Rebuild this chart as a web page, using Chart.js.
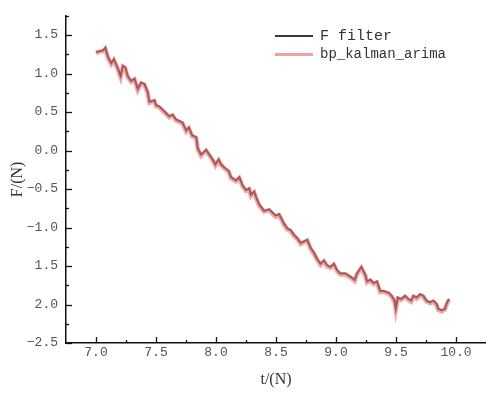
<!DOCTYPE html>
<html>
<head>
<meta charset="utf-8">
<script src="https://cdn.jsdelivr.net/npm/chart.js@4.4.1/dist/chart.umd.min.js"></script>
<style>
  html, body { margin: 0; padding: 0; background: #fff; }
  #wrap { width: 486px; height: 394px; }
</style>
</head>
<body>
<div id="wrap"><canvas id="chart"></canvas></div>
<script>
// time axis (s)
var tVals = [7.000, 7.030, 7.058, 7.077, 7.100, 7.127, 7.149, 7.177, 7.205, 7.224,
  7.243, 7.265, 7.293, 7.321, 7.348, 7.376, 7.404, 7.431, 7.445, 7.487,
  7.500, 7.528, 7.556, 7.583, 7.611, 7.638, 7.666, 7.694, 7.721, 7.752,
  7.774, 7.802, 7.835, 7.848, 7.876, 7.918, 7.945, 7.973, 7.995, 8.022,
  8.042, 8.070, 8.105, 8.125, 8.167, 8.194, 8.221, 8.250, 8.277, 8.291,
  8.318, 8.337, 8.360, 8.401, 8.443, 8.470, 8.498, 8.526, 8.567, 8.595,
  8.623, 8.650, 8.677, 8.706, 8.733, 8.760, 8.789, 8.816, 8.843, 8.871,
  8.899, 8.926, 8.954, 8.982, 9.009, 9.037, 9.079, 9.120, 9.156, 9.175,
  9.211, 9.245, 9.258, 9.286, 9.313, 9.341, 9.369, 9.396, 9.438, 9.465,
  9.488, 9.498, 9.515, 9.543, 9.576, 9.604, 9.626, 9.645, 9.672, 9.701,
  9.728, 9.755, 9.784, 9.811, 9.838, 9.852, 9.880, 9.908, 9.921, 9.941];

var fFilter = [1.279, 1.290, 1.300, 1.334, 1.216, 1.134, 1.184, 1.091, 0.966, 1.100,
  1.084, 0.966, 0.904, 0.934, 0.800, 0.884, 0.863, 0.759, 0.634, 0.654,
  0.591, 0.571, 0.529, 0.488, 0.446, 0.466, 0.404, 0.384, 0.363, 0.259,
  0.300, 0.196, 0.175, 0.029, -0.054, 0.009, -0.054, -0.116, -0.179, -0.116,
  -0.179, -0.221, -0.263, -0.346, -0.388, -0.346, -0.450, -0.513, -0.491, -0.575,
  -0.534, -0.616, -0.700, -0.784, -0.763, -0.804, -0.846, -0.825, -0.950, -1.013,
  -1.034, -1.096, -1.138, -1.200, -1.179, -1.159, -1.263, -1.325, -1.409, -1.471,
  -1.429, -1.491, -1.513, -1.471, -1.554, -1.596, -1.596, -1.638, -1.679, -1.596,
  -1.513, -1.616, -1.700, -1.679, -1.721, -1.700, -1.825, -1.825, -1.846, -1.888,
  -1.950, -2.054, -1.909, -1.929, -1.888, -1.929, -1.950, -1.888, -1.909, -1.866,
  -1.888, -1.950, -1.971, -1.950, -1.991, -2.054, -2.075, -2.054, -1.991, -1.929];

var bpKalman = [1.265, 1.285, 1.290, 1.320, 1.200, 1.120, 1.175, 1.075, 0.950, 1.090,
  1.070, 0.950, 0.890, 0.920, 0.785, 0.870, 0.850, 0.745, 0.620, 0.640,
  0.575, 0.560, 0.515, 0.475, 0.430, 0.455, 0.390, 0.370, 0.350, 0.245,
  0.285, 0.185, 0.160, 0.015, -0.070, -0.005, -0.065, -0.130, -0.195, -0.130,
  -0.190, -0.235, -0.275, -0.360, -0.400, -0.360, -0.465, -0.525, -0.505, -0.590,
  -0.545, -0.630, -0.715, -0.795, -0.775, -0.820, -0.860, -0.840, -0.965, -1.025,
  -1.050, -1.110, -1.150, -1.215, -1.190, -1.170, -1.280, -1.340, -1.420, -1.485,
  -1.440, -1.505, -1.525, -1.485, -1.570, -1.610, -1.610, -1.650, -1.695, -1.610,
  -1.525, -1.630, -1.715, -1.690, -1.735, -1.715, -1.840, -1.835, -1.860, -1.900,
  -1.965, -2.070, -1.925, -1.940, -1.900, -1.945, -1.965, -1.900, -1.925, -1.880,
  -1.900, -1.965, -1.985, -1.965, -2.005, -2.070, -2.090, -2.065, -2.005, -1.940];

var xTicks = [7.0, 7.5, 8.0, 8.5, 9.0, 9.5, 10.0];
var xTickLabels = ['7.0', '7.5', '8.0', '8.5', '9.0', '9.5', '10.0'];
var yTicks = [1.5, 1.0, 0.5, 0.0, -0.5, -1.0, -1.5, -2.0, -2.5];
// labels as printed in the figure (two minus signs are missing there)
var yTickLabels = ['1.5', '1.0', '0.5', '0.0', '\u22120.5', '\u22121.0', '1.5', '2.0', '\u22122.5'];
var xMinor = [7.25, 7.75, 8.25, 8.75, 9.25, 9.75];
var yMinor = [1.75, 1.25, 0.75, 0.25, -0.25, -0.75, -1.25, -1.75, -2.25];

var seriesNames = ['F filter', 'bp_kalman_arima'];

function toPoints(xs, ys){
  var out = [];
  for (var i = 0; i < xs.length; i++) out.push({x: xs[i], y: ys[i]});
  return out;
}

// inward ticks + legend
var decor = {
  id: 'decor',
  afterDraw: function(chart){
    var ctx = chart.ctx, xs = chart.scales.x, ys = chart.scales.y;
    var a = chart.chartArea;
    ctx.save();
    ctx.strokeStyle = '#111';
    ctx.lineWidth = 1.3;
    function tickX(v, len){
      var p = Math.round(xs.getPixelForValue(v)) + 0.5;
      ctx.beginPath(); ctx.moveTo(p, a.bottom); ctx.lineTo(p, a.bottom - len); ctx.stroke();
    }
    function tickY(v, len){
      var p = Math.round(ys.getPixelForValue(v)) + 0.5;
      ctx.beginPath(); ctx.moveTo(a.left, p); ctx.lineTo(a.left + len, p); ctx.stroke();
    }
    xTicks.forEach(function(v){ tickX(v, 6); });
    xMinor.forEach(function(v){ tickX(v, 3); });
    yTicks.forEach(function(v){ tickY(v, 6); });
    yMinor.forEach(function(v){ tickY(v, 3); });

    // legend
    var lx = 275, ly = 36, gap = 18.5;
    chart.data.datasets.forEach(function(ds, i){
      var y = ly + i * gap;
      ctx.strokeStyle = i === 0 ? ds.borderColor : 'rgba(240,150,150,0.9)';
      ctx.lineWidth = i === 0 ? 2 : 3;
      ctx.beginPath(); ctx.moveTo(lx, y); ctx.lineTo(lx + 38, y); ctx.stroke();
      ctx.fillStyle = '#333';
      ctx.font = (i === 0 ? '15px' : '14px') + ' "Liberation Mono"';
      ctx.textBaseline = 'middle';
      ctx.fillText(ds.label, lx + 45, y);
    });
    ctx.restore();
  }
};

var ctx = document.getElementById('chart').getContext('2d');
var chart = new Chart(ctx, {
  type: 'line',
  data: {
    datasets: [{
      label: seriesNames[0],
      data: toPoints(tVals, fFilter),
      borderColor: '#333b3b',
      borderWidth: 2,
      pointRadius: 0,
      tension: 0,
      order: 1
    }, {
      label: seriesNames[1],
      data: toPoints(tVals, bpKalman),
      borderColor: 'rgba(236,112,112,0.6)',
      borderWidth: 4.5,
      pointRadius: 0,
      tension: 0,
      order: 0
    }]
  },
  options: {
    responsive: true,
    maintainAspectRatio: false,
    animation: false,
    layout: { padding: { top: 4, right: 0, left: 0, bottom: 0 } },
    plugins: {
      legend: { display: false },
      tooltip: { enabled: false }
    },
    scales: {
      x: {
        type: 'linear',
        min: 6.75,
        max: 10.25,
        afterBuildTicks: function(s){ s.ticks = xTicks.map(function(v){ return {value: v}; }); },
        afterFit: function(s){ s.height = 51; },
        grid: { display: false, drawTicks: false },
        border: { display: true, color: '#111', width: 1.5 },
        ticks: {
          padding: 2,
          color: '#555',
          font: { family: '"Liberation Mono"', size: 13 },
          maxRotation: 0,
          autoSkip: false,
          callback: function(v){ var i = xTicks.indexOf(v); return i < 0 ? '' : xTickLabels[i]; }
        },
        title: {
          display: true,
          text: 't/(N)',
          color: '#333',
          font: { family: '"Liberation Serif"', size: 16 },
          padding: { top: 0, bottom: 5 }
        }
      },
      y: {
        type: 'linear',
        min: -2.5,
        max: 1.75,
        afterBuildTicks: function(s){ s.ticks = yTicks.map(function(v){ return {value: v}; }); },
        afterFit: function(s){ s.width = 66; },
        grid: { display: false, drawTicks: false },
        border: { display: true, color: '#111', width: 1.5 },
        ticks: {
          padding: 8,
          color: '#555',
          font: { family: '"Liberation Mono"', size: 13 },
          autoSkip: false,
          callback: function(v){ var i = yTicks.indexOf(v); return i < 0 ? '' : yTickLabels[i]; }
        },
        title: {
          display: true,
          text: 'F/(N)',
          color: '#333',
          font: { family: '"Liberation Serif"', size: 16 },
          padding: { top: 8, bottom: 0 }
        }
      }
    }
  },
  plugins: [decor]
});
</script>
</body>
</html>
